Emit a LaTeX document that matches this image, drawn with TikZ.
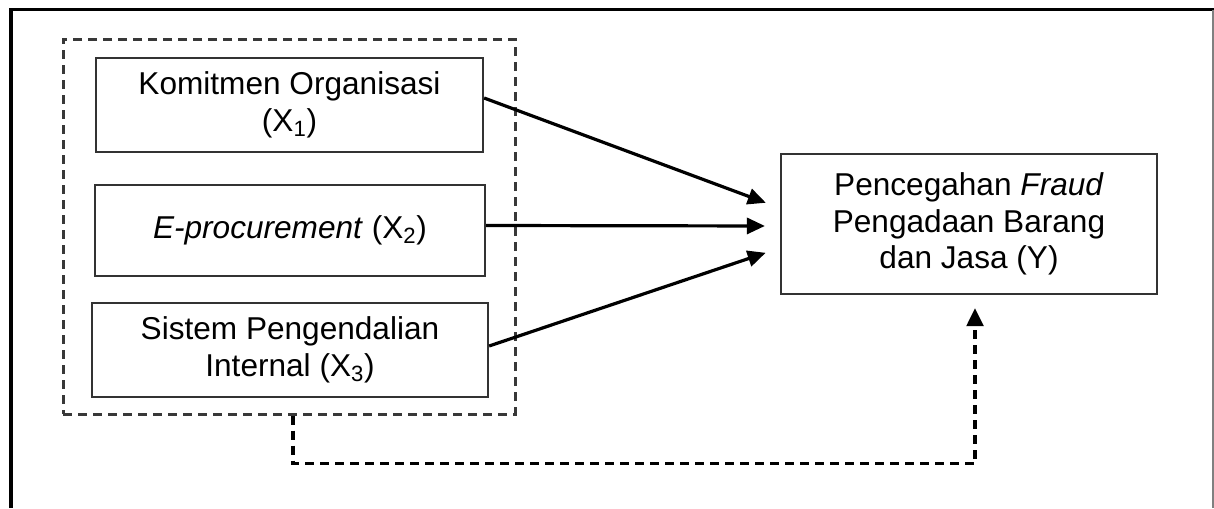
\documentclass[tikz,border=0pt]{standalone}
\usepackage{fontspec}
\setmainfont{Liberation Sans}
\usetikzlibrary{arrows.meta,calc}
\newlength\pu
\setlength\pu{0.75pt}
\definecolor{boxline}{HTML}{333333}
\definecolor{dashline}{HTML}{383838}
\tikzset{
  varbox/.style={draw=boxline, line width=2.2\pu, align=center, inner sep=0pt,
    font=\fontsize{23.7pt}{27.5pt}\selectfont},
  grpbox/.style={draw=dashline, line width=3\pu, dash pattern=on 9\pu off 6\pu, inner sep=0pt},
  effect/.style={line width=3.2\pu, -{Triangle[length=13.5pt,width=12pt]}, shorten >=15\pu},
  moderate/.style={line width=3.2\pu, dash pattern=on 9\pu off 6\pu, -{Triangle[length=13.5pt,width=12.5pt]}, shorten >=13\pu},
}
\begin{document}
\begin{tikzpicture}[x=0.75pt,y=-0.75pt]
\useasboundingbox (0,0) rectangle (1214,508);
% outer frame (open at bottom)
\draw[line width=3.5\pu] (11,508) -- (11,9.5) -- (1214,9.5);
\draw[line width=1.8\pu, gray] (1213,9.5) -- (1213,508);
% group box
\node[grpbox, minimum width=452\pu, minimum height=375\pu] (grp) at (289,226.5) {};
% variable boxes
\node[varbox, minimum width=387\pu, minimum height=94\pu] (x1) at (289.5,105) {Komitmen Organisasi\\(X\textsubscript{1})};
\node[varbox, minimum width=390\pu, minimum height=91\pu] (x2) at (290,230.5) {\textit{E-procurement} (X\textsubscript{2})};
\node[varbox, minimum width=396\pu, minimum height=94\pu] (x3) at (290,350) {Sistem Pengendalian\\Internal (X\textsubscript{3})};
\node[varbox, minimum width=376\pu, minimum height=140\pu] (y) at (969,224) {Pencegahan \textit{Fraud}\\Pengadaan Barang\\dan Jasa (Y)};
% arrow targets
\coordinate (t1) at ($(y.west)+(0,-16)$);
\coordinate (t2) at ($(y.west)+(0,2)$);
\coordinate (t3) at ($(y.west)+(0,24)$);
\coordinate (s1) at ($(x1.east)+(0,-7)$);
\coordinate (s2) at ($(x2.east)+(0,-5)$);
\coordinate (s3) at ($(x3.east)+(0,-4)$);
\draw[effect] (s1) -- (t1);
\draw[effect] (s2) -- (t2);
\draw[effect] (s3) -- (t3);
% simultaneous effect
\coordinate (g0) at ($(grp.south)+(4,0)$);
\coordinate (yb) at ($(y.south)+(6,0)$);
\draw[moderate] (g0) -- ++(0,48) -| (yb);
\end{tikzpicture}
\end{document}
